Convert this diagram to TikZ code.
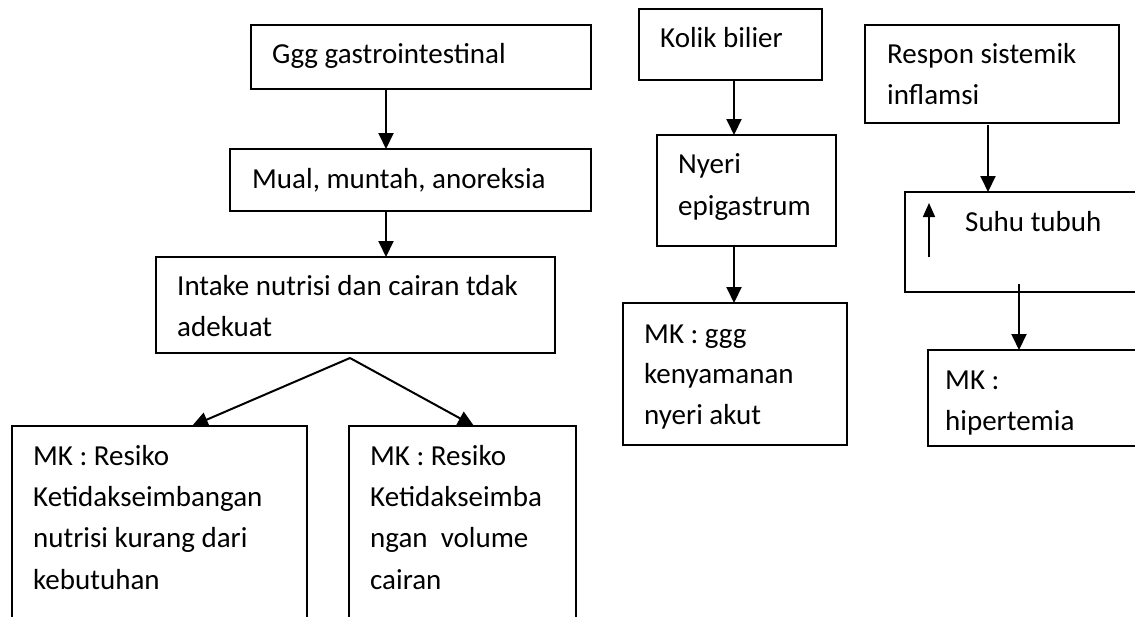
\documentclass[tikz,border=0pt]{standalone}
\usepackage{fontspec}
\setmainfont{Carlito}
\usetikzlibrary{arrows.meta,fit}
\begin{document}
\begin{tikzpicture}[x=1pt,y=-1pt,
  box/.style={draw, line width=2pt, inner sep=0pt, outer sep=0pt},
  txt/.style={anchor=base west, inner sep=0pt, font=\fontsize{29}{41}\selectfont},
  arr/.style={line width=2pt, -{Triangle[length=16pt,width=15pt]}},
  arrsmall/.style={line width=1.7pt, -{Triangle[length=14pt,width=12pt]}}]
\useasboundingbox (0,0) rectangle (1135,616);
\fill[white] (0,0) rectangle (1135,616);
\clip (0,0) rectangle (1135,616);

% boxes
\node[box, fit={(251,25) (591,89)}] (ggg) {};
\node[box, fit={(230,149) (591,211)}] (mual) {};
\node[box, fit={(156,257) (555,353)}] (intake) {};
\node[box, fit={(12,426) (307,650)}] (mkA) {};
\node[box, fit={(349,426) (576,650)}] (mkB) {};
\node[box, fit={(639,9) (822,80)}] (kolik) {};
\node[box, fit={(657,135) (836,246)}] (nyeri) {};
\node[box, fit={(623,303) (847,445)}] (mkC) {};
\node[box, fit={(865,25) (1119,123)}] (respon) {};
\node[box, fit={(905,192) (1170,292)}] (suhu) {};
\node[box, fit={(928,350) (1170,446)}] (mkD) {};

% texts
\node[txt] (t1) at (272,63) {Ggg gastrointestinal};
\node[txt] (t2) at (252,188) {Mual, muntah, anoreksia};
\node[txt] (t3a) at (177,295) {Intake nutrisi dan cairan tdak};
\node[txt] (t3b) at (177,336) {adekuat};
\node[txt] (t4a) at (33,465) {MK : Resiko};
\node[txt] (t4b) at (33,506) {Ketidakseimbangan};
\node[txt] (t4c) at (33,547) {nutrisi kurang dari};
\node[txt] (t4d) at (33,589) {kebutuhan};
\node[txt] (t5a) at (370,465) {MK : Resiko};
\node[txt] (t5b) at (370,506) {Ketidakseimba};
\node[txt] (t5c) at (370,547) {ngan\ \ volume};
\node[txt] (t5d) at (370,589) {cairan};
\node[txt] (t6) at (660,47) {Kolik bilier};
\node[txt] (t7a) at (678,173) {Nyeri};
\node[txt] (t7b) at (678,215) {epigastrum};
\node[txt] (t8a) at (644,343) {MK : ggg};
\node[txt] (t8b) at (644,383) {kenyamanan};
\node[txt] (t8c) at (644,424) {nyeri akut};
\node[txt] (t9a) at (887,63) {Respon sistemik};
\node[txt] (t9b) at (887,104) {inflamsi};
\node[txt] (t10) at (965,231) {Suhu tubuh};
\node[txt] (t11a) at (945,389) {MK :};
\node[txt] (t11b) at (945,430) {hipertemia};

% connector helpers
\coordinate (c1) at (386,0);
\coordinate (c2) at (734,0);
\coordinate (c3) at (988,0);
\coordinate (c4) at (1019,284);
\coordinate (apex) at (350,358);
\coordinate (u1) at (929,257);
\coordinate (u2) at (929,203);

% connectors
\draw[arr] (ggg.south -| c1) -- (mual.north -| c1);
\draw[arr] (mual.south -| c1) -- (intake.north -| c1);
\draw[arr] (apex) -- ([xshift=180pt]mkA.north west);
\draw[arr] (apex) -- ([xshift=125pt]mkB.north west);
\draw[arr] (kolik.south -| c2) -- (nyeri.north -| c2);
\draw[arr] (nyeri.south -| c2) -- (mkC.north -| c2);
\draw[arr] ([yshift=-2pt]respon.south -| c3) -- (suhu.north -| c3);
\draw[arrsmall] (u1) -- (u2);
\draw[arr] (c4) -- (mkD.north -| c4);
\end{tikzpicture}
\end{document}
